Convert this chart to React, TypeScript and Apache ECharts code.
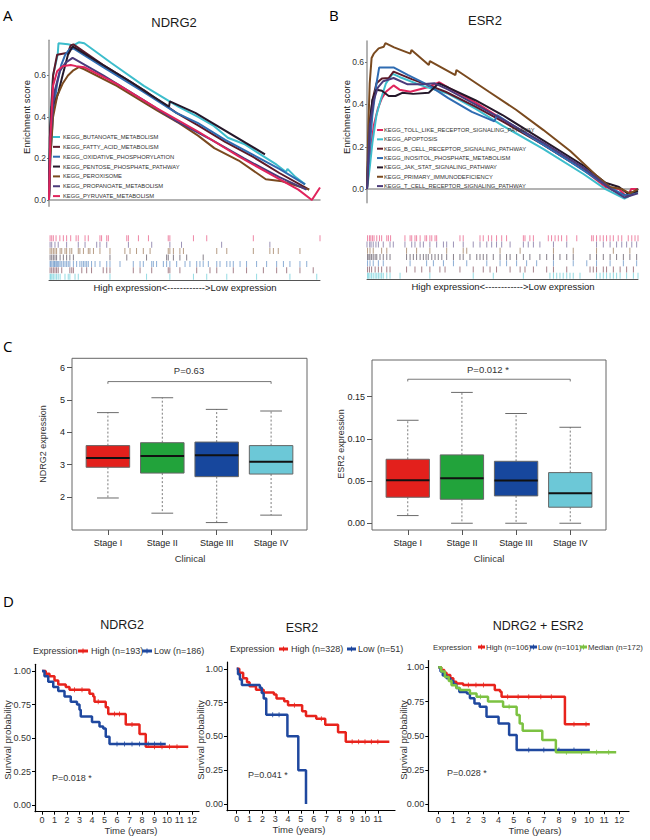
import React, { useEffect, useRef } from "react";
import * as echarts from "echarts";

// ---------------- Panel A (GSEA, NDRG2) ----------------
const aPathways = [
  "KEGG_BUTANOATE_METABOLISM",
  "KEGG_FATTY_ACID_METABOLISM",
  "KEGG_OXIDATIVE_PHOSPHORYLATION",
  "KEGG_PENTOSE_PHOSPHATE_PATHWAY",
  "KEGG_PEROXISOME",
  "KEGG_PROPANOATE_METABOLISM",
  "KEGG_PYRUVATE_METABOLISM",
];
const aColors = ["#3dbdcc", "#5c1a2a", "#2f6cb2", "#25182a", "#7a4a1f", "#4b3b7b", "#e0245c"];
// running enrichment score: [rank %, ES]
const aButanoate = [[0,0],[0.6,0.42],[1.5,0.6],[3.2,0.7],[3.5,0.755],[7,0.75],[9,0.745],[11,0.76],[13,0.755],[23,0.66],[35,0.55],[47.7,0.45],[55,0.4],[60.5,0.36],[66,0.3],[72,0.27],[78,0.22],[84,0.17],[87.5,0.135],[88,0.15],[91,0.11],[94.5,0.075]];
const aFatty = [[0,0],[0.5,0.35],[1.5,0.6],[3,0.7],[5,0.705],[7,0.71],[8,0.745],[9,0.75],[20,0.65],[35,0.53],[47,0.42],[55,0.36],[65,0.28],[75,0.21],[85,0.13],[96,0.05]];
const aOxidative = [[0,0],[0.5,0.2],[1.5,0.42],[3,0.56],[4.5,0.65],[6,0.7],[7.5,0.725],[9,0.73],[20,0.64],[35,0.52],[47,0.42],[55,0.37],[65,0.29],[75,0.22],[85,0.15],[94.5,0.075]];
const aPentose = [[0,0],[0.3,0.3],[1,0.45],[2.5,0.48],[3.5,0.52],[5,0.6],[7,0.7],[8.7,0.74],[20,0.65],[30,0.57],[37,0.51],[44.3,0.45],[44.6,0.475],[54,0.42],[79.7,0.22]];
const aPeroxisome = [[0,0],[0.5,0.2],[1.5,0.4],[3,0.5],[5,0.56],[7,0.6],[9,0.625],[11,0.64],[13,0.63],[25,0.55],[40,0.43],[48,0.37],[55,0.31],[61,0.25],[70,0.19],[80,0.1],[86,0.09],[96,0.05]];
const aPropanoate = [[0,0],[0.5,0.3],[2,0.52],[4,0.62],[6,0.66],[8.7,0.685],[20,0.6],[35,0.48],[47,0.38],[60,0.29],[72,0.2],[85,0.11],[95,0.05]];
const aPyruvate = [[0,0],[0.5,0.3],[1.5,0.55],[3,0.62],[5,0.645],[8,0.65],[10,0.645],[13,0.64],[25,0.56],[40,0.44],[55,0.33],[70,0.21],[85,0.1],[92,0.05],[97,0],[100,0.06]];
const aCurves = [aButanoate, aFatty, aOxidative, aPentose, aPeroxisome, aPropanoate, aPyruvate];
// hit positions (rank %)
const aHitsButanoate = [0.4,0.7,1.1,1.6,2.2,2.8,3.4,4.1,5.9,7.1,7.7,9.6,10.8,22.5,36,44.6,53.3,58.2,65.6,76.6,88.9,98.8];
const aHitsFatty = [0.4,1,1.6,2.2,2.8,3.4,4.7,7.7,8.4,9,12.1,13.9,15.7,20,21.3,22.5,31.1,33.6,37.9,44,44.6,48.3,54.5,59.4,61.9,68,72.9,79.1,84,87.7,92.6,97.5];
const aHitsOxidative = [0.4,0.7,1.1,1.6,2,2.3,2.8,3.2,3.6,4.1,4.7,5.3,5.9,6.5,7.1,7.7,9,10.2,11.4,12.1,12.7,13.3,13.9,14.5,15.7,17,18.8,21.3,22.5,26.2,31.1,33.6,34.8,37.9,38.5,39.7,42.2,43.4,44.6,47.1,50.2,52,54.5,55.7,56.9,58.8,61.9,63.1,65.6,66.8,68,70.5,72.9,76.6,80.3,84,86.5,88.9,92.6,95.1];
const aHitsPentose = [0.4,1,1.6,2.2,2.8,4.1,5.3,6.5,7.7,9,22.5,28.7,36,43.4,44,45.9,48.3,50.8,56.9];
const aHitsPeroxisome = [0.4,1,1.6,2.2,2.8,4.1,4.7,5.9,6.5,7.7,8.4,10.8,11.4,12.7,14.5,15.1,16.4,18.8,22.5,28,29.9,32.3,34.8,37.3,44,44.6,45.9,48.3,49.6,61.9,65.6,75.4,81.5,82.8,84.6,92.6];
const aHitsPropanoate = [0.4,1,2.2,3.4,6.5,10.8,13.3,17.6,18.8,21.3,29.3,37.9,44.6,48.9,63.7,81.5];
const aHitsPyruvate = [0.4,1,1.6,2.6,4,5.3,6.5,8,10,10.8,13.3,14.5,18.8,19.4,21.3,21.9,28.7,29.3,33,36.7,44,44.6,53.3,58.2,75.4,100];
const aHits = [aHitsButanoate, aHitsFatty, aHitsOxidative, aHitsPentose, aHitsPeroxisome, aHitsPropanoate, aHitsPyruvate];
const aRugRow = [0.5, 1.5, 2.5, 3.5, 4.5, 5.5, 6.5];

// ---------------- Panel B (GSEA, ESR2) ----------------
const bPathways = [
  "KEGG_TOLL_LIKE_RECEPTOR_SIGNALING_PATHWAY",
  "KEGG_APOPTOSIS",
  "KEGG_B_CELL_RECEPTOR_SIGNALING_PATHWAY",
  "KEGG_INOSITOL_PHOSPHATE_METABOLISM",
  "KEGG_JAK_STAT_SIGNALING_PATHWAY",
  "KEGG_PRIMARY_IMMUNODEFICIENCY",
  "KEGG_T_CELL_RECEPTOR_SIGNALING_PATHWAY",
];
const bColors = ["#e0245c", "#3dbdcc", "#5c1a2a", "#2f6cb2", "#25182a", "#7a4a1f", "#4b3b7b"];
const bToll = [[0,0],[1,0.15],[2.5,0.3],[4,0.38],[5.5,0.43],[7,0.46],[9.8,0.49],[12,0.47],[16,0.46],[22,0.48],[26.7,0.505],[30,0.48],[40,0.41],[50,0.33],[65,0.21],[80,0.09],[88,0.01],[93,0],[96,-0.04],[97.5,0],[100,0]];
const bApoptosis = [[0,0],[1,0.1],[2,0.22],[3.5,0.35],[5,0.42],[7,0.5],[9.5,0.545],[12,0.53],[20,0.49],[30,0.45],[40,0.38],[50,0.3],[65,0.19],[80,0.07],[88,0],[95,-0.045],[100,-0.01]];
const bBcell = [[0,0],[1,0.3],[2,0.42],[3.5,0.5],[5.5,0.523],[8,0.525],[9.8,0.555],[16.5,0.52],[22.8,0.49],[29,0.46],[40,0.39],[50,0.32],[65,0.21],[80,0.09],[90,0],[96,-0.035],[100,0]];
const bInositol = [[0,0],[1,0.2],[2,0.35],[3.5,0.5],[4.5,0.575],[9.8,0.575],[15,0.54],[22.8,0.49],[30,0.43],[38.7,0.365],[47,0.32],[48,0.35],[60,0.25],[75,0.13],[88,0.02],[95,-0.03],[98,-0.02],[100,0]];
const bJakStat = [[0,0],[0.8,0.3],[2,0.42],[3.5,0.47],[5.5,0.465],[8,0.44],[10.5,0.44],[13,0.455],[17,0.45],[22.8,0.455],[26.5,0.5],[30,0.48],[40,0.42],[50,0.35],[65,0.23],[80,0.11],[88,0.03],[93,0.01],[96,-0.02],[100,-0.01]];
const bPrimary = [[0,0],[0.5,0.3],[1,0.5],[1.7,0.62],[2.5,0.64],[4.3,0.665],[6.2,0.673],[6.8,0.69],[10,0.67],[16,0.64],[16.4,0.657],[22.8,0.586],[23.2,0.605],[32.6,0.539],[33,0.563],[45,0.46],[55,0.375],[65,0.28],[75,0.18],[85,0.06],[89.7,0.01],[94,0],[97,-0.02],[100,0]];
const bTcell = [[0,0],[1,0.3],[2.5,0.42],[4,0.48],[6,0.51],[9.8,0.525],[15,0.495],[20,0.495],[25,0.5],[30,0.47],[40,0.4],[50,0.33],[65,0.22],[80,0.1],[90,0],[95,-0.04],[100,-0.02]];
const bCurves = [bToll, bApoptosis, bBcell, bInositol, bJakStat, bPrimary, bTcell];
const bHitsToll = [0.2,0.9,1.4,2,2.6,3.6,4.6,5.4,7.3,7.9,8.7,14,15.9,16.5,17.7,18.3,19.6,21.4,22,23.2,23.9,25.1,25.7,34.3,35.5,41.7,42.9,44.8,46,47.8,49.7,51.5,57.7,58.3,60.1,61.4,66.9,68.1,69.4,70.6,71.8,73.7,77.4,82.9,83.5,84.7,86,87.2,88.4,89.7,90.9,92.7,94,96.4,97.7,98.9,100];
const bHitsApoptosis = [0.2,0.6,1.1,1.7,2.3,3,3.6,4.2,4.8,5.4,6,7.3,8.5,12.2,23.2,39.2,46.6,57.7,67.5,68.8,70,71.2,72.4,73.7,74.9,76.1,78.6,84.7,86,87.2,88.4,89.7,90.9,92.1,93.4,95.8,98.3,100];
const bHitsBcell = [0.2,0.9,1.7,3,4.2,5.4,7.3,8.5,14.6,17.7,20.2,23.2,26.9,28.8,34.3,39.2,42.9,45.4,47.8,52.8,56.5,58.3,61.4,66.3,68.8,73.7,82.3,83.5,84.7,87.2,88.4,90.9,93.4,95.8,98.3];
const bHitsInositol = [0.2,1.1,2.3,4.2,6,15.9,22,24.5,28.2,31.9,36.8,44.2,49.1,51.5,55.2,58.9,62.6,68.8,76.1,81.1,84.7,89.7,94.6,99.5];
const bHitsJakStat = [0.2,0.7,1.1,1.7,2.3,3,3.6,4.8,6,7.3,8.5,14.6,15.9,17.1,18.3,19.6,20.8,21.8,22.6,23.9,25.1,26.3,27.6,29.4,31.9,34.3,35.5,38,40.5,41.7,42.9,44.2,46.6,49.1,51.5,52.8,55.2,57.7,60.1,63.8,66.3,68.8,71.2,73.7,76.1,82.3,84.7,87.2,89.7,92.1,94.6,97,99.5];
const bHitsPrimary = [0.2,1.1,2.3,5.4,7.3,14.6,18.3,23.2,29.4,35.5,36.8,49.1,56.5,68.8,76.1,84.7,90.9,97];
const bHitsTcell = [0,1,1.5,2.3,3.3,4.2,6,8.5,9.7,14,16.5,17.7,19.6,20.8,23.2,25.7,28.2,29.4,31.9,35.5,39.2,41.7,44.2,46,47.8,49.7,52.8,57.7,59.5,61.4,63.8,68.8,73.7,84.7,87.2,89.7,92.1,94,95.8,97.7,99.5];
const bHits = [bHitsToll, bHitsApoptosis, bHitsBcell, bHitsInositol, bHitsJakStat, bHitsPrimary, bHitsTcell];
const bRugRow = [6.5, 0.5, 1.5, 2.5, 3.5, 4.5, 5.5];

// ---------------- Panel C (box plots) ----------------
const stageLabels = ["Stage I", "Stage II", "Stage III", "Stage IV"];
const stageColors = ["#e3201c", "#22a33b", "#17479d", "#6cc8d7"];
// [min, Q1, median, Q3, max]
const ndrg2Box = [
  [1.97, 2.92, 3.21, 3.59, 4.61],
  [1.5, 2.74, 3.27, 3.68, 5.07],
  [1.21, 2.63, 3.29, 3.7, 4.71],
  [1.44, 2.71, 3.09, 3.59, 4.66],
];
const esr2Box = [
  [0.0091, 0.0308, 0.0509, 0.0758, 0.122],
  [0, 0.0284, 0.0533, 0.081, 0.155],
  [0, 0.0324, 0.0505, 0.0734, 0.13],
  [0, 0.019, 0.0355, 0.06, 0.1137],
];
const ndrg2Ticks = [2, 3, 4, 5, 6];
const esr2Ticks = [0, 0.05, 0.1, 0.15];
const ndrg2Bracket = [5.5, 5.57];
const esr2Bracket = [0.168, 0.1706];

// ---------------- Panel D (Kaplan-Meier) ----------------
const kmNdrg2High = [[0,1],[0.3,0.98],[0.6,0.96],[1,0.93],[1.3,0.9],[1.9,0.88],[2.2,0.86],[3.8,0.83],[4.1,0.81],[4.2,0.77],[5.1,0.73],[5.3,0.68],[6.7,0.6],[7.8,0.53],[8.3,0.435],[11.7,0.435]];
const kmNdrg2Low = [[0,1],[0.2,0.96],[0.5,0.92],[0.9,0.88],[1.3,0.85],[1.8,0.81],[2.3,0.77],[2.8,0.75],[3,0.71],[3.1,0.66],[4,0.62],[4.6,0.585],[4.9,0.57],[5.1,0.51],[5.4,0.455],[9.9,0.455]];
const kmEsr2High = [[0,1],[0.2,0.97],[0.5,0.93],[0.8,0.9],[1,0.87],[1.5,0.845],[2.1,0.825],[2.9,0.81],[3.1,0.78],[3.7,0.76],[4,0.73],[5.1,0.685],[5.4,0.65],[6.2,0.63],[6.9,0.586],[7.9,0.53],[8.5,0.46],[11.9,0.46]];
const kmEsr2Low = [[0,1],[0.1,0.96],[0.25,0.92],[0.4,0.88],[1.8,0.86],[1.95,0.82],[2.1,0.78],[2.3,0.66],[3.95,0.5],[4.8,0.25],[5.4,0]];
const kmBothHigh = [[0,1],[0.2,0.98],[0.4,0.96],[0.55,0.944],[0.8,0.92],[1,0.895],[1.2,0.883],[1.65,0.871],[3.75,0.835],[4.1,0.822],[4.2,0.786],[8.4,0.584],[10.05,0.584]];
const kmBothLow = [[0,1],[0.15,0.97],[0.3,0.94],[0.55,0.92],[0.8,0.9],[1,0.875],[1.2,0.85],[1.4,0.82],[1.9,0.81],[2.1,0.774],[2.4,0.737],[2.75,0.713],[3.2,0.64],[4,0.591],[4.7,0.506],[5.2,0.397],[10.05,0.397]];
const kmBothMedian = [[0,1],[0.2,0.97],[0.44,0.93],[0.7,0.9],[0.88,0.87],[1.2,0.85],[1.44,0.835],[2.1,0.81],[2.54,0.786],[3.3,0.75],[4.3,0.713],[5.2,0.652],[5.4,0.591],[5.6,0.538],[6.9,0.47],[7.8,0.38],[11.8,0.38]];
// censoring marks [time, survival]
const cenNdrg2High = [[2.6,0.86],[3.2,0.86],[4.5,0.77],[5.8,0.68],[6.2,0.68],[7.2,0.6],[9,0.435],[9.6,0.435],[10.2,0.435],[10.8,0.435]];
const cenNdrg2Low = [[6,0.455],[6.6,0.455],[7.2,0.455],[7.8,0.455],[8.5,0.455],[9,0.455],[9.5,0.455]];
const cenEsr2High = [[4.5,0.73],[6.6,0.63],[9,0.46],[9.5,0.46],[10,0.46],[10.5,0.46],[11,0.46]];
const cenEsr2Low = [[2.8,0.66],[3.3,0.66]];
const cenBothHigh = [[2,0.871],[2.5,0.871],[3,0.871],[4.6,0.786],[5.3,0.786],[6,0.786],[6.8,0.786],[7.5,0.786],[9,0.584],[9.8,0.584]];
const cenBothLow = [[6,0.397],[7,0.397],[8,0.397],[9,0.397]];
const cenBothMedian = [[2.8,0.786],[4.7,0.713],[8.5,0.38],[9.5,0.38],[10.5,0.38],[11.3,0.38]];
const kmYTicks = [0, 0.25, 0.5, 0.75, 1];
const kmXTicks12 = [0,1,2,3,4,5,6,7,8,9,10,11,12];
const kmXTicks11 = [0,1,2,3,4,5,6,7,8,9,10,11];
const gseaTicks = [0, 0.2, 0.4, 0.6];

const RED = "#e8231c";
const BLUE = "#1f489f";
const GREEN = "#7cc242";
const FF = "Liberation Sans, Arial, Helvetica, sans-serif";
const PLUS = "path://M2,0H3V2H5V3H3V5H2V3H0V2H2Z";

function txt(text: string, x: number, y: number, size: number, o: any = {}) {
  const align = o.align || "center";
  return {
    type: "text",
    x,
    y,
    rotation: o.rot || 0,
    z: 100,
    style: {
      text,
      fontSize: size,
      fontFamily: o.family || FF,
      fill: o.color || "#1a1a1a",
      align,
      textAlign: align,
      verticalAlign: "middle",
      textVerticalAlign: "middle",
    },
  };
}
function bar(x: number, y: number, w: number, h: number, fill: string) {
  return { type: "rect", z: 100, shape: { x, y, width: w, height: h }, style: { fill } };
}

function boxRender(colors: string[]) {
  return (params: any, api: any) => {
    const x = api.value(0);
    const pMin = api.coord([x, api.value(1)]);
    const yQ1 = api.coord([x, api.value(2)])[1];
    const yMed = api.coord([x, api.value(3)])[1];
    const yQ3 = api.coord([x, api.value(4)])[1];
    const yMax = api.coord([x, api.value(5)])[1];
    const cx = pMin[0];
    const yMin = pMin[1];
    const w = api.size([0.8, 0])[0];
    const cap = w / 4;
    const stroke = "#5a5a5a";
    return {
      type: "group",
      children: [
        { type: "line", shape: { x1: cx, y1: yQ3, x2: cx, y2: yMax }, style: { stroke, lineWidth: 0.8, lineDash: [2, 2] } },
        { type: "line", shape: { x1: cx, y1: yQ1, x2: cx, y2: yMin }, style: { stroke, lineWidth: 0.8, lineDash: [2, 2] } },
        { type: "line", shape: { x1: cx - cap, y1: yMax, x2: cx + cap, y2: yMax }, style: { stroke, lineWidth: 0.9 } },
        { type: "line", shape: { x1: cx - cap, y1: yMin, x2: cx + cap, y2: yMin }, style: { stroke, lineWidth: 0.9 } },
        { type: "rect", shape: { x: cx - w / 2, y: yQ3, width: w, height: yQ1 - yQ3 }, style: { fill: colors[params.dataIndex], stroke: "#666", lineWidth: 1 } },
        { type: "line", shape: { x1: cx - w / 2, y1: yMed, x2: cx + w / 2, y2: yMed }, style: { stroke: "#111", lineWidth: 2 } },
      ],
    };
  };
}

export default function App() {
  const ref = useRef<HTMLDivElement>(null);
  useEffect(() => {
    document.body.style.margin = "0";
    if (!ref.current) return;
    const chart = echarts.init(ref.current, undefined, { renderer: "svg" });

    const grids: any[] = [
      { left: 49, top: 40.2, width: 271, height: 166 },
      { left: 49, top: 235, width: 271, height: 45 },
      { left: 367, top: 41, width: 271, height: 161.8 },
      { left: 367, top: 235, width: 271, height: 44 },
      { left: 72, top: 358.3, width: 235, height: 171.7, show: true, borderColor: "#666", borderWidth: 1 },
      { left: 372, top: 360, width: 234, height: 170, show: true, borderColor: "#666", borderWidth: 1 },
      { left: 35, top: 664.3, width: 164, height: 147.4 },
      { left: 227, top: 662, width: 168, height: 148.7 },
      { left: 428.3, top: 660.5, width: 200.7, height: 150.7 },
    ];

    const hiddenAxis = (g: number, min: number, max: number, lineShow = false, lineColor = "#444") => ({
      gridIndex: g, type: "value", min, max,
      axisLine: { show: lineShow, onZero: false, lineStyle: { color: lineColor, width: 1 } },
      axisTick: { show: false }, axisLabel: { show: false }, splitLine: { show: false },
    });

    const gseaX = (g: number) => ({
      gridIndex: g, type: "value", min: 0, max: 100,
      axisLine: { show: true, onZero: true, lineStyle: { color: "#9a9a9a", width: 1.5 } },
      axisTick: { show: false }, axisLabel: { show: false }, splitLine: { show: false },
    });
    const gseaY = (g: number, min: number, max: number) => ({
      gridIndex: g, type: "value", min, max,
      axisLine: { show: true, onZero: false, lineStyle: { color: "#9a9a9a", width: 1.5 } },
      axisTick: { show: true, customValues: gseaTicks, length: 2, lineStyle: { color: "#777" } },
      axisLabel: { customValues: gseaTicks, formatter: (v: number) => v.toFixed(1), fontSize: 8.5, fontFamily: FF, color: "#333", margin: 3 },
      splitLine: { show: false },
    });
    const boxX = (g: number) => ({
      gridIndex: g, type: "value", min: 0.34, max: 4.66,
      axisLine: { show: false, onZero: false },
      axisTick: { show: true, customValues: [1, 2, 3, 4], length: 5, lineStyle: { color: "#555" } },
      axisLabel: { customValues: [1, 2, 3, 4], formatter: (v: number) => stageLabels[Math.round(v) - 1], fontSize: 9, fontFamily: FF, color: "#222", margin: 8 },
      splitLine: { show: false },
    });
    const boxY = (g: number, min: number, max: number, ticks: number[], dec: number) => ({
      gridIndex: g, type: "value", min, max,
      axisLine: { show: false, onZero: false },
      axisTick: { show: true, customValues: ticks, length: 5, lineStyle: { color: "#555" } },
      axisLabel: { customValues: ticks, formatter: (v: number) => v.toFixed(dec), fontSize: 9, fontFamily: FF, color: "#222", margin: 7 },
      splitLine: { show: false },
    });
    const kmX = (g: number, min: number, max: number, ticks: number[]) => ({
      gridIndex: g, type: "value", min, max,
      axisLine: { show: true, onZero: false, lineStyle: { color: "#000", width: 1.2 } },
      axisTick: { show: true, customValues: ticks, length: 3, lineStyle: { color: "#000" } },
      axisLabel: { customValues: ticks, fontSize: 9, fontFamily: FF, color: "#333", margin: 4 },
      splitLine: { show: false },
    });
    const kmY = (g: number) => ({
      gridIndex: g, type: "value", min: -0.05, max: 1.05,
      axisLine: { show: true, onZero: false, lineStyle: { color: "#000", width: 1.2 } },
      axisTick: { show: true, customValues: kmYTicks, length: 3, lineStyle: { color: "#000" } },
      axisLabel: { customValues: kmYTicks, formatter: (v: number) => v.toFixed(2), fontSize: 9, fontFamily: FF, color: "#333", margin: 4 },
      splitLine: { show: false },
    });

    const xAxis = [
      gseaX(0), hiddenAxis(1, 0, 100, true, "#555"), gseaX(2), hiddenAxis(3, 0, 100, true, "#555"),
      boxX(4), boxX(5),
      kmX(6, -0.56, 12.56, kmXTicks12), kmX(7, -0.76, 12.34, kmXTicks11), kmX(8, -0.66, 12.65, kmXTicks12),
    ];
    const yAxis = [
      gseaY(0, -0.03, 0.77), hiddenAxis(1, 0, 7), gseaY(2, -0.065, 0.7), hiddenAxis(3, 0, 7),
      boxY(4, 0.98, 6.29, ndrg2Ticks, 0), boxY(5, -0.008, 0.1934, esr2Ticks, 2),
      kmY(6), kmY(7), kmY(8),
    ];

    const series: any[] = [];
    const addGsea = (curves: number[][][], colors: string[], hits: number[][], rows: number[], gi: number) => {
      curves.forEach((c, i) => {
        series.push({ type: "line", xAxisIndex: gi, yAxisIndex: gi, data: c, symbol: "none", lineStyle: { color: colors[i], width: 2 }, itemStyle: { color: colors[i] } });
      });
      hits.forEach((h, i) => {
        series.push({ type: "scatter", xAxisIndex: gi + 1, yAxisIndex: gi + 1, data: h.map((x) => [x, rows[i]]), symbol: "rect", symbolSize: [1, 6], itemStyle: { color: colors[i], opacity: 0.55 } });
      });
    };
    addGsea(aCurves, aColors, aHits, aRugRow, 0);
    addGsea(bCurves, bColors, bHits, bRugRow, 2);

    const addBox = (boxes: number[][], bracket: number[], gi: number) => {
      series.push({ type: "custom", xAxisIndex: gi, yAxisIndex: gi, renderItem: boxRender(stageColors), data: boxes.map((b, i) => [i + 1, ...b]) });
      series.push({ type: "line", xAxisIndex: gi, yAxisIndex: gi, symbol: "none", lineStyle: { color: "#555", width: 0.8 },
        data: [[1, bracket[0]], [1, bracket[1]], [4, bracket[1]], [4, bracket[0]]] });
    };
    addBox(ndrg2Box, ndrg2Bracket, 4);
    addBox(esr2Box, esr2Bracket, 5);

    const addKm = (gi: number, data: number[][], cens: number[][], color: string) => {
      series.push({ type: "line", xAxisIndex: gi, yAxisIndex: gi, data, step: "end", symbol: "none", lineStyle: { color, width: 2.5 }, itemStyle: { color } });
      series.push({ type: "scatter", xAxisIndex: gi, yAxisIndex: gi, data: cens, symbol: PLUS, symbolSize: 5, itemStyle: { color } });
    };
    addKm(6, kmNdrg2High, cenNdrg2High, RED);
    addKm(6, kmNdrg2Low, cenNdrg2Low, BLUE);
    addKm(7, kmEsr2High, cenEsr2High, RED);
    addKm(7, kmEsr2Low, cenEsr2Low, BLUE);
    addKm(8, kmBothHigh, cenBothHigh, RED);
    addKm(8, kmBothLow, cenBothLow, BLUE);
    addKm(8, kmBothMedian, cenBothMedian, GREEN);

    const g: any[] = [];
    const LF = "Open Sans, DejaVu Sans, sans-serif";
    g.push(txt("A", 3, 15, 15, { align: "left", family: LF, color: "#000" }));
    g.push(txt("B", 329, 15, 15, { align: "left", family: LF, color: "#000" }));
    g.push(txt("C", 3, 345.5, 15, { align: "left", family: LF, color: "#000" }));
    g.push(txt("D", 3, 601, 15, { align: "left", family: LF, color: "#000" }));
    g.push(txt("NDRG2", 174, 22, 13));
    g.push(txt("ESR2", 485, 20, 13));
    g.push(txt("Enrichment score", 26, 117, 9.5, { rot: Math.PI / 2 }));
    g.push(txt("Enrichment score", 346, 117, 9.5, { rot: Math.PI / 2 }));
    aPathways.forEach((p, i) => {
      const y = 137 + i * 9.85;
      g.push(bar(53, y - 1, 7, 2, aColors[i]));
      g.push(txt(p, 63, y, 5.8, { align: "left", color: "#333" }));
    });
    bPathways.forEach((p, i) => {
      const y = 130 + i * 9.35;
      g.push(bar(377, y - 1, 6, 2, bColors[i]));
      g.push(txt(p, 384, y, 5.8, { align: "left", color: "#333" }));
    });
    g.push(txt("High expression<------------>Low expression", 185, 287, 9.5));
    g.push(txt("High expression<------------>Low expression", 503, 286, 9.5));

    g.push(txt("P=0.63", 189, 370, 9.5, { color: "#333" }));
    g.push(txt("P=0.012 *", 488, 369, 9.5, { color: "#333" }));
    g.push(txt("NDRG2 expression", 43, 444, 9, { rot: Math.PI / 2, color: "#333" }));
    g.push(txt("ESR2 expression", 341, 444, 9, { rot: Math.PI / 2, color: "#333" }));
    g.push(txt("Clinical", 190, 558, 9.5, { color: "#333" }));
    g.push(txt("Clinical", 489, 558, 9.5, { color: "#333" }));

    g.push(txt("NDRG2", 122, 624.5, 12.5));
    g.push(txt("ESR2", 302, 628, 12.5));
    g.push(txt("NDRG2 + ESR2", 538, 626, 12.5));
    const legendMark = (x: number, y: number, w: number, color: string) => {
      g.push(bar(x, y - 1.5, w, 3, color));
      g.push(bar(x + w / 2 - 0.5, y - 2.5, 1, 5, color));
    };
    g.push(txt("Expression", 33, 651, 9, { align: "left", color: "#333" }));
    legendMark(78, 651, 10, RED);
    g.push(txt("High (n=193)", 91, 651, 9, { align: "left", color: "#333" }));
    legendMark(142, 651, 10, BLUE);
    g.push(txt("Low (n=186)", 154, 651, 9, { align: "left", color: "#333" }));

    g.push(txt("Expression", 230, 649, 9, { align: "left", color: "#333" }));
    legendMark(279, 649, 9, RED);
    g.push(txt("High (n=328)", 291, 649, 9, { align: "left", color: "#333" }));
    legendMark(347, 649, 9, BLUE);
    g.push(txt("Low (n=51)", 358, 649, 9, { align: "left", color: "#333" }));

    g.push(txt("Expression", 433, 647, 7.8, { align: "left", color: "#333" }));
    legendMark(478, 647, 7, RED);
    g.push(txt("High (n=106)", 486, 647, 7.8, { align: "left", color: "#333" }));
    legendMark(530, 647, 7, BLUE);
    g.push(txt("Low (n=101)", 538, 647, 7.8, { align: "left", color: "#333" }));
    legendMark(580, 647, 7, GREEN);
    g.push(txt("Median (n=172)", 588, 647, 7.8, { align: "left", color: "#333" }));

    g.push(txt("P=0.018 *", 52, 778, 9, { align: "left", color: "#333" }));
    g.push(txt("P=0.041 *", 248, 775, 9, { align: "left", color: "#333" }));
    g.push(txt("P=0.028 *", 447, 773, 9, { align: "left", color: "#333" }));
    g.push(txt("Survival probability", 7.5, 740, 9.5, { rot: Math.PI / 2, color: "#333" }));
    g.push(txt("Survival probability", 200, 740, 9.5, { rot: Math.PI / 2, color: "#333" }));
    g.push(txt("Survival probability", 403, 740, 9.5, { rot: Math.PI / 2, color: "#333" }));
    g.push(txt("Time (years)", 131, 830, 9.5, { color: "#333" }));
    g.push(txt("Time (years)", 299, 829, 9.5, { color: "#333" }));
    g.push(txt("Time (years)", 535, 830, 9.5, { color: "#333" }));

    chart.setOption({
      animation: false,
      backgroundColor: "#fff",
      grid: grids,
      xAxis,
      yAxis,
      series,
      graphic: { elements: g },
    });
    return () => chart.dispose();
  }, []);
  return <div ref={ref} style={{ width: 650, height: 840 }} />;
}
